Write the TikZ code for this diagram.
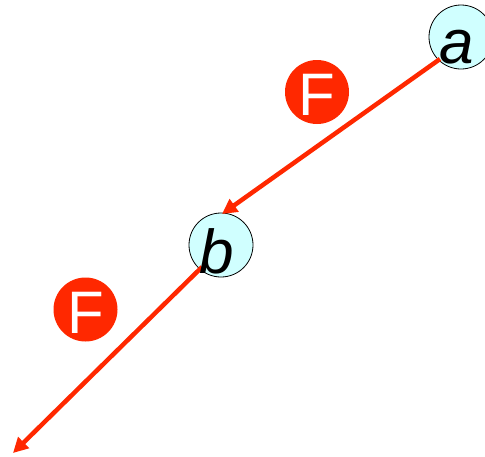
\documentclass[tikz,border=0pt]{standalone}
\usepackage{fontspec}
\setmainfont{Liberation Sans}
\usetikzlibrary{arrows.meta}
\definecolor{fred}{RGB}{255,40,0}
\definecolor{ballfill}{RGB}{208,255,255}
\begin{document}
\begin{tikzpicture}[x=1pt,y=-1pt,
  ball/.style={circle,draw=black,line width=0.8pt,fill=ballfill,minimum size=64pt,inner sep=0pt},
  badge/.style={circle,fill=fred,minimum size=64pt,inner sep=0pt},
  force/.style={draw=fred,line width=4.5pt,-{Triangle[length=15pt,width=15pt]}},
  lbl/.style={anchor=base,inner sep=0pt,font=\fontsize{62}{62}\selectfont\itshape},
  flbl/.style={anchor=base,inner sep=0pt,text=white,font=\fontsize{60}{60}\selectfont}]
\useasboundingbox (0,0) rectangle (485,456);
\node[ball] (a) at (461,37) {};
\node[ball] (b) at (221,245) {};
\node[badge] (f1) at (317,92) {};
\node[badge] (f2) at (85.5,309.5) {};
\node[flbl] (f1t) at (316.5,115) {F};
\node[flbl] (f2t) at (86,333) {F};
\coordinate (as) at (440,59);
\coordinate (bt) at (222,214);
\coordinate (bs) at (202,267);
\coordinate (e) at (13,453);
\draw[force] (as) -- (bt);
\draw[force] (bs) -- (e);
\node[lbl] (at) at (457,63) {a};
\node[lbl] (btx) at (217,273) {b};
\end{tikzpicture}
\end{document}
